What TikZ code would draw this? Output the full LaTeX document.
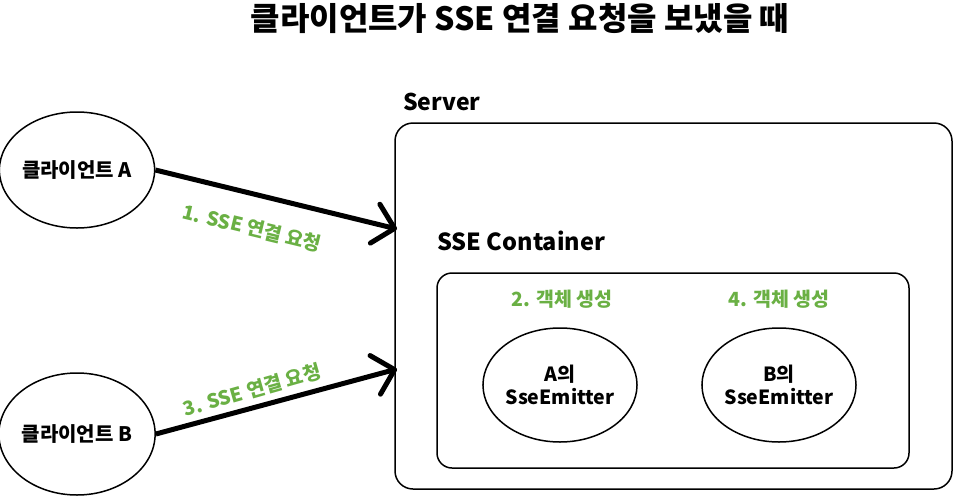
\documentclass[tikz,border=0pt]{standalone}
\usepackage{fontspec}
\setmainfont{Noto Sans CJK KR}
\usetikzlibrary{shapes.geometric,arrows.meta}
\definecolor{lblgreen}{RGB}{106,176,68}
\tikzset{
  ell/.style={draw,ellipse,line width=1.5pt,inner sep=0pt,minimum width=154pt,minimum height=116pt,font=\bfseries\fontsize{19.5}{23}\selectfont,align=center},
  box/.style={draw,line width=1.5pt,rounded corners=18pt},
  lbl/.style={text=lblgreen,font=\bfseries\fontsize{19.5}{22}\selectfont,inner sep=0pt},
  hdr/.style={font=\bfseries\fontsize{23}{26}\selectfont,anchor=west,inner sep=0pt},
  req/.style={line width=5pt,-{Straight Barb[length=20pt,width=40pt,round]}},
}
\begin{document}
\begin{tikzpicture}[x=1pt,y=-1pt]
\useasboundingbox (0,0) rectangle (954,496);
\node[font=\bfseries\fontsize{32}{36}\selectfont] (title) at (520,19) {클라이언트가 SSE 연결 요청을 보냈을 때};
% server
\draw[box] (395,123) rectangle (952,489);
\node[hdr] (server) at (403,102) {Server};
\node[hdr,font=\bfseries\fontsize{23.5}{26}\selectfont] (cont) at (437,241) {SSE Container};
\draw[box,rounded corners=15pt] (437,273) rectangle (909,468);
\coordinate (inA) at (397,229);
\coordinate (inB) at (397,369);
% clients
\node[ell,minimum height=116pt,font=\bfseries\fontsize{20}{23}\selectfont] (ca) at (77,170) {클라이언트 A};
\node[ell,minimum height=122pt,font=\bfseries\fontsize{20}{23}\selectfont] (cb) at (77,434) {클라이언트 B};
% emitters
\node[lbl] (l2) at (562,299) {2. 객체 생성};
\node[lbl] (l4) at (779,299) {4. 객체 생성};
\node[ell,minimum width=153pt,minimum height=114pt] (ea) at (560,385) {A의\\SseEmitter};
\node[ell,minimum width=152pt,minimum height=114pt] (eb) at (779,385) {B의\\SseEmitter};
% arrows
\draw[req] (ca.east) -- (inA);
\draw[req] (cb.east) -- (inB);
\node[lbl,rotate=-13.6] (l1) at (252,228) {1. SSE 연결 요청};
\node[lbl,rotate=15.9] (l3) at (252,390) {3. SSE 연결 요청};
\end{tikzpicture}
\end{document}
